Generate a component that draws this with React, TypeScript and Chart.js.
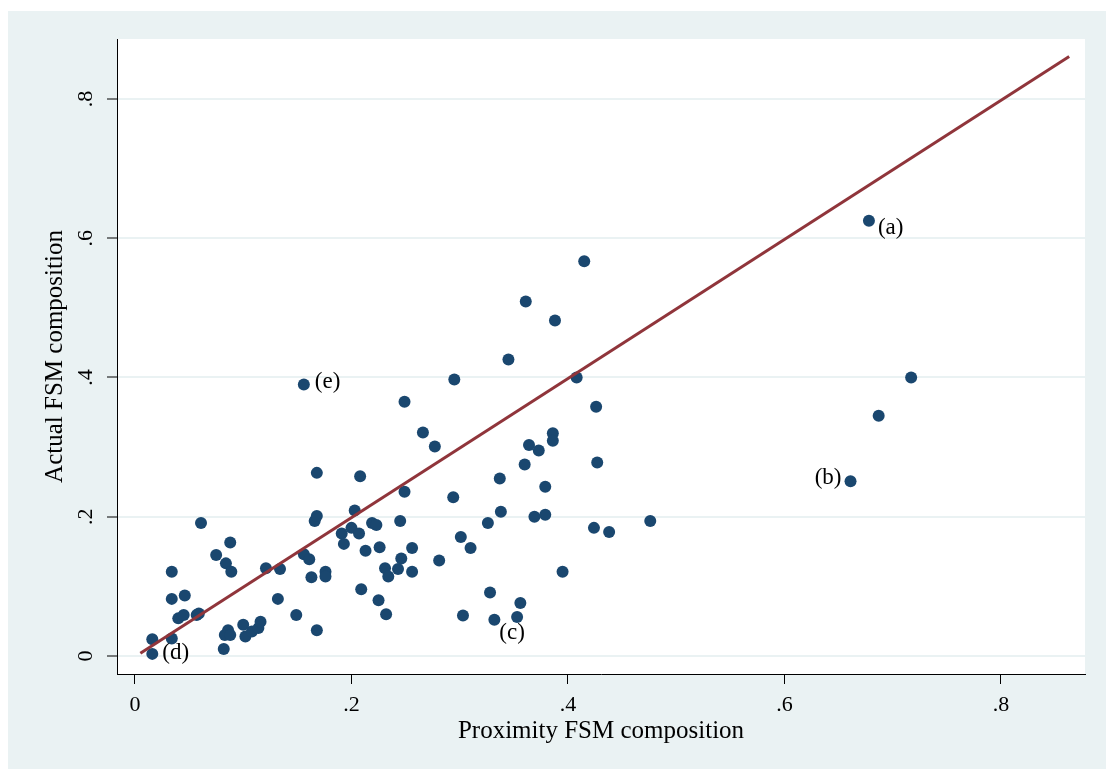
import React, { useEffect, useRef } from 'react';
import { Chart, registerables } from 'chart.js';
Chart.register(...registerables);

// ---- data ----
const xVals = [
  0.061, 0.088, 0.075, 0.084, 0.089, 0.034, 0.121, 0.134, 0.156, 0.161,
  0.163, 0.166, 0.034, 0.046, 0.132, 0.149, 0.168, 0.040, 0.045, 0.057,
  0.059, 0.016, 0.034, 0.016, 0.082, 0.086, 0.083, 0.088, 0.100, 0.102,
  0.108, 0.114, 0.116, 0.168, 0.249, 0.294, 0.203, 0.219, 0.223, 0.245,
  0.326, 0.338, 0.191, 0.200, 0.207, 0.193, 0.213, 0.226, 0.256, 0.246,
  0.231, 0.234, 0.243, 0.256, 0.281, 0.301, 0.310, 0.176, 0.176, 0.209,
  0.225, 0.232, 0.328, 0.303, 0.332, 0.408, 0.426, 0.386, 0.386, 0.364,
  0.373, 0.360, 0.427, 0.337, 0.379, 0.369, 0.379, 0.424, 0.438, 0.476,
  0.395, 0.356, 0.353, 0.156, 0.168, 0.208, 0.415, 0.361, 0.388, 0.345,
  0.295, 0.249, 0.266, 0.277, 0.678, 0.717, 0.687, 0.661,
];
const yVals = [
  0.191, 0.163, 0.145, 0.133, 0.121, 0.121, 0.126, 0.125, 0.146, 0.139,
  0.113, 0.194, 0.082, 0.087, 0.082, 0.059, 0.037, 0.054, 0.059, 0.059,
  0.061, 0.024, 0.025, 0.003, 0.010, 0.037, 0.030, 0.030, 0.045, 0.028,
  0.035, 0.040, 0.049, 0.201, 0.236, 0.228, 0.209, 0.191, 0.188, 0.194,
  0.191, 0.207, 0.176, 0.184, 0.176, 0.161, 0.151, 0.156, 0.155, 0.140,
  0.126, 0.114, 0.125, 0.121, 0.137, 0.171, 0.155, 0.121, 0.114, 0.096,
  0.080, 0.060, 0.091, 0.058, 0.052, 0.400, 0.358, 0.320, 0.309, 0.303,
  0.295, 0.275, 0.278, 0.255, 0.243, 0.200, 0.203, 0.184, 0.178, 0.194,
  0.121, 0.076, 0.056, 0.390, 0.263, 0.258, 0.567, 0.509, 0.482, 0.426,
  0.397, 0.365, 0.321, 0.301, 0.625, 0.400, 0.345, 0.251,
];
// fitted line
const fitX = [0.005, 0.863];
const fitY = [0.004, 0.861];
// tick labels
const xTicks = [0, 0.2, 0.4, 0.6, 0.8];
const yTicks = [0, 0.2, 0.4, 0.6, 0.8];
const fmtTick = (v: number) => (v === 0 ? '0' : String(Number(v.toFixed(1))).replace(/^0/, ''));
// labelled points
const labelTexts = ['(a)', '(b)', '(c)', '(d)', '(e)'];
const labelXs = [0.678, 0.661, 0.353, 0.016, 0.156];
const labelYs = [0.625, 0.251, 0.056, 0.003, 0.390];

// ---- styles ----
const BG = '#EAF2F3';
const NAVY = '#1A476F';
const MAROON = '#90353B';
const FONT = "'Liberation Serif', 'Times New Roman', serif";
const labelPlacement = [
  { dx: 9, dy: 7, align: 'left' },
  { dx: -9, dy: -3, align: 'right' },
  { dx: -5, dy: 16, align: 'center' },
  { dx: 10, dy: -1, align: 'left' },
  { dx: 11, dy: -2.5, align: 'left' },
];

const bgPlugin = {
  id: 'bg',
  beforeDraw(chart: any) {
    const { ctx, chartArea } = chart;
    ctx.save();
    ctx.fillStyle = BG;
    ctx.fillRect(0, 0, chart.width, chart.height);
    ctx.fillStyle = '#FFFFFF';
    ctx.fillRect(chartArea.left, chartArea.top, chartArea.right - chartArea.left, chartArea.bottom - chartArea.top);
    ctx.restore();
  },
};

const labelPlugin = {
  id: 'ptlabels',
  afterDatasetsDraw(chart: any) {
    const { ctx, scales } = chart;
    ctx.save();
    ctx.font = `23px ${FONT}`;
    ctx.fillStyle = '#000';
    ctx.textBaseline = 'middle';
    labelTexts.forEach((t, i) => {
      const px = scales.x.getPixelForValue(labelXs[i]);
      const py = scales.y.getPixelForValue(labelYs[i]);
      const p = labelPlacement[i];
      ctx.textAlign = p.align;
      ctx.fillText(t, px + p.dx, py + p.dy);
    });
    ctx.restore();
  },
};

export default function App() {
  const ref = useRef<HTMLCanvasElement>(null);
  useEffect(() => {
    const points = xVals.map((x, i) => ({ x, y: yVals[i] }));
    const fit = fitX.map((x, i) => ({ x, y: fitY[i] }));
    const chart = new Chart(ref.current as HTMLCanvasElement, {
      type: 'scatter',
      data: {
        datasets: [
          {
            label: 'Fitted',
            data: fit,
            showLine: true,
            borderColor: MAROON,
            borderWidth: 3,
            pointRadius: 0,
            fill: false,
          } as any,
          {
            label: 'Actual',
            data: points,
            backgroundColor: NAVY,
            borderColor: NAVY,
            borderWidth: 0,
            pointRadius: 6,
          },
        ],
      },
      options: {
        animation: false,
        responsive: true,
        maintainAspectRatio: false,
        layout: { padding: { top: 28, right: 21, left: 0, bottom: 0 } },
        plugins: { legend: { display: false }, tooltip: { enabled: false } },
        scales: {
          x: {
            type: 'linear',
            min: -0.0166,
            max: 0.8776,
            afterBuildTicks: (s: any) => { s.ticks = xTicks.map((v) => ({ value: v })); },
            afterFit: (s: any) => { s.height = 95; },
            grid: {
              drawOnChartArea: false,
              drawTicks: true,
              tickLength: 10,
              tickColor: '#000',
              tickWidth: 1,
            },
            border: { color: '#000', width: 1 },
            ticks: {
              padding: 8,
              color: '#000',
              font: { family: FONT, size: 22 },
              callback: (v: any) => fmtTick(Number(v)),
              maxRotation: 0,
              minRotation: 0,
            },
            title: {
              display: true,
              text: 'Proximity FSM composition',
              color: '#000',
              font: { family: FONT, size: 25 },
              padding: { top: 0, bottom: 23 },
            },
          },
          y: {
            type: 'linear',
            min: -0.0259,
            max: 0.8862,
            afterBuildTicks: (s: any) => { s.ticks = yTicks.map((v) => ({ value: v })); },
            afterFit: (s: any) => { s.width = 109; },
            grid: {
              color: BG,
              lineWidth: 2,
              drawTicks: true,
              tickLength: 10,
              tickColor: '#000',
              tickWidth: 1,
            },
            border: { color: '#000', width: 1 },
            ticks: {
              padding: 13,
              color: '#000',
              crossAlign: 'center',
              minRotation: 90,
              maxRotation: 90,
              font: { family: FONT, size: 22 },
              callback: (v: any) => fmtTick(Number(v)),
            },
            title: {
              display: true,
              text: 'Actual FSM composition',
              color: '#000',
              font: { family: FONT, size: 25 },
              padding: { top: 32, bottom: 0 },
            },
          },
        },
      },
      plugins: [bgPlugin, labelPlugin],
    });
    return () => chart.destroy();
  }, []);
  return (
    <div style={{ position: 'absolute', left: 8, top: 11, width: 1098, height: 758 }}>
      <canvas ref={ref} />
    </div>
  );
}
